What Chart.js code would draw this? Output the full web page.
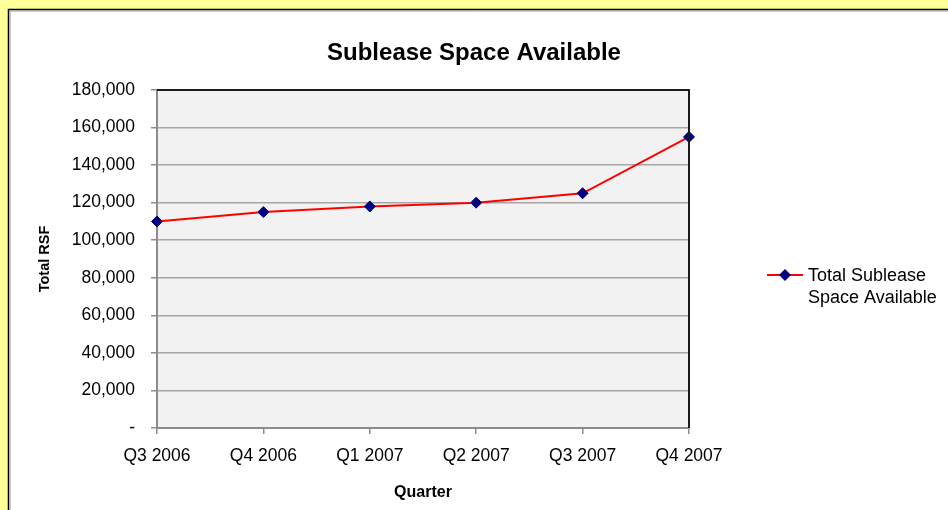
<!DOCTYPE html>
<html>
<head>
<meta charset="utf-8">
<script src="https://cdn.jsdelivr.net/npm/chart.js@4.4.1/dist/chart.umd.min.js"></script>
<style>
  html, body { margin: 0; padding: 0; background: #FFFF99; }
  #wrap { width: 948px; height: 510px; }
</style>
</head>
<body>
<div id="wrap"><canvas id="c" width="948" height="510"></canvas></div>
<script>
const chartTitle = 'Sublease Space Available';
const categories = ['Q3 2006', 'Q4 2006', 'Q1 2007', 'Q2 2007', 'Q3 2007', 'Q4 2007'];
const seriesLabel = ['Total Sublease', 'Space Available'];
const seriesValues = [110000, 115000, 118000, 120000, 125000, 155000];
const yTickValues = [0, 20000, 40000, 60000, 80000, 100000, 120000, 140000, 160000, 180000];
const yTickLabels = ['-', '20,000', '40,000', '60,000', '80,000', '100,000', '120,000', '140,000', '160,000', '180,000'];
const xAxisTitle = 'Quarter';
const yAxisTitle = 'Total RSF';

const FONT = "'Liberation Sans', Arial, sans-serif";

const framePlugin = {
  id: 'frame',
  beforeDraw(chart) {
    const ctx = chart.ctx;
    const a = chart.chartArea;
    ctx.save();
    ctx.fillStyle = '#FFFF99';
    ctx.fillRect(0, 0, chart.width, chart.height);
    ctx.fillStyle = '#FFFFFF';
    ctx.fillRect(8, 9, chart.width, chart.height);
    ctx.strokeStyle = '#000000';
    ctx.lineWidth = 1.5;
    ctx.beginPath();
    ctx.moveTo(8.5, chart.height + 5);
    ctx.lineTo(8.5, 9.5);
    ctx.lineTo(chart.width + 5, 9.5);
    ctx.stroke();
    ctx.strokeStyle = '#9a9a9a';
    ctx.lineWidth = 1;
    ctx.beginPath();
    ctx.moveTo(10, chart.height + 5);
    ctx.lineTo(10, 11);
    ctx.lineTo(chart.width + 5, 11);
    ctx.stroke();
    ctx.fillStyle = '#F2F2F2';
    ctx.fillRect(a.left, a.top, a.right - a.left, a.bottom - a.top);
    ctx.restore();
  },
  afterDraw(chart) {
    const ctx = chart.ctx;
    const a = chart.chartArea;
    ctx.save();
    ctx.strokeStyle = '#1a1a1a';
    ctx.lineWidth = 2;
    ctx.beginPath();
    ctx.moveTo(a.left, a.top);
    ctx.lineTo(a.right, a.top);
    ctx.lineTo(a.right, a.bottom);
    ctx.stroke();
    ctx.fillStyle = '#000';
    ctx.font = "bold 24px " + FONT;
    ctx.textAlign = 'center';
    ctx.textBaseline = 'alphabetic';
    ctx.fillText(chartTitle, 474, 60);
    const ds = chart.data.datasets[0];
    const ly = 275;
    ctx.strokeStyle = ds.borderColor;
    ctx.lineWidth = 2;
    ctx.beginPath();
    ctx.moveTo(767, ly);
    ctx.lineTo(803, ly);
    ctx.stroke();
    ctx.fillStyle = ds.pointBackgroundColor;
    ctx.beginPath();
    const r = 6;
    ctx.moveTo(785, ly - r);
    ctx.lineTo(785 + r, ly);
    ctx.lineTo(785, ly + r);
    ctx.lineTo(785 - r, ly);
    ctx.closePath();
    ctx.fill();
    ctx.fillStyle = '#000';
    ctx.font = "18px " + FONT;
    ctx.textAlign = 'left';
    ctx.textBaseline = 'middle';
    const lbl = Array.isArray(ds.label) ? ds.label : [ds.label];
    lbl.forEach((t, i) => ctx.fillText(t, 808, ly + 1 + i * 22));
    ctx.restore();
  }
};

new Chart(document.getElementById('c'), {
  type: 'line',
  data: {
    labels: categories,
    datasets: [{
      label: seriesLabel,
      data: seriesValues,
      borderColor: '#FF0000',
      borderWidth: 2,
      backgroundColor: '#000080',
      pointBackgroundColor: '#000080',
      pointBorderColor: '#000080',
      pointStyle: 'rectRot',
      pointRadius: 5.5,
      pointBorderWidth: 1,
      tension: 0,
      fill: false
    }]
  },
  options: {
    responsive: false,
    animation: false,
    events: [],
    layout: { padding: { left: 0, right: 259, top: 90, bottom: 0 } },
    plugins: {
      legend: { display: false },
      title: { display: false },
      tooltip: { enabled: false }
    },
    scales: {
      x: {
        type: 'category',
        offset: false,
        afterFit(s) { s.height = 82; },
        grid: { drawOnChartArea: false, drawTicks: true, tickLength: 6, color: '#8c8c8c', lineWidth: 1.5 },
        border: { color: '#8c8c8c', width: 2 },
        ticks: { color: '#000', font: { family: FONT, size: 17.5 }, padding: 12, maxRotation: 0, autoSkip: false },
        title: { display: true, text: xAxisTitle, color: '#000', font: { family: FONT, size: 16, weight: 'bold' }, padding: { top: 8, bottom: 8 } }
      },
      y: {
        min: 0,
        max: 180000,
        afterFit(s) { s.width = 157; },
        afterBuildTicks(s) { s.ticks = yTickValues.map(v => ({ value: v })); },
        grid: { color: '#a6a6a6', lineWidth: 1.5, drawTicks: true, tickLength: 6, tickColor: '#8c8c8c' },
        border: { color: '#8c8c8c', width: 2 },
        ticks: {
          color: '#000',
          font: { family: FONT, size: 17.5 },
          padding: 16,
          callback(v) { const i = yTickValues.indexOf(v); return i >= 0 ? yTickLabels[i] : ''; }
        },
        title: { display: true, text: yAxisTitle, color: '#000', font: { family: FONT, size: 14.5, weight: 'bold' }, padding: { top: 36, bottom: 36 } }
      }
    }
  },
  plugins: [framePlugin]
});
</script>
</body>
</html>
